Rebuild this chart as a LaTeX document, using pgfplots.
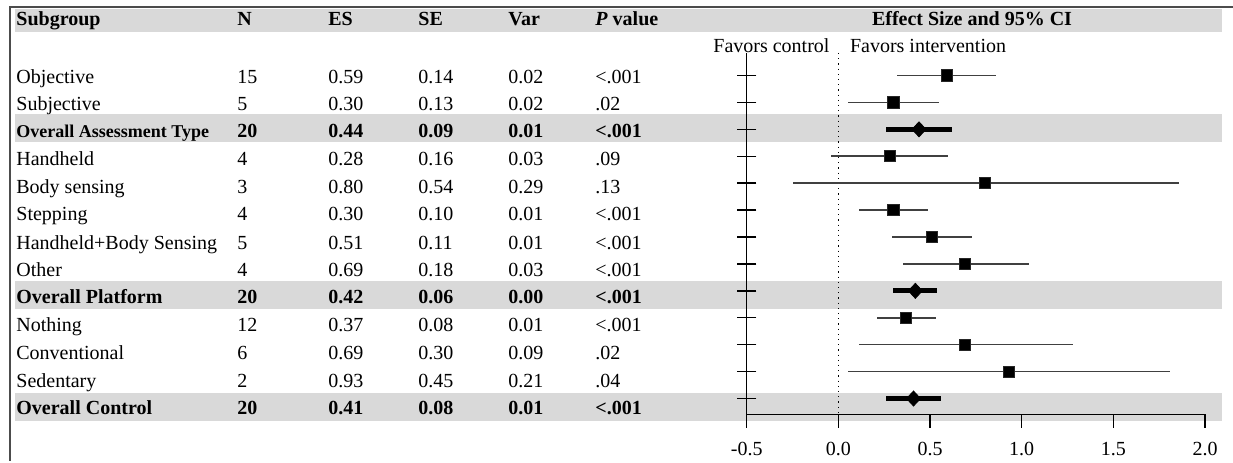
\documentclass[border=0pt]{standalone}
\usepackage{fontspec}
\setmainfont{Liberation Serif}
\usepackage{pgfplots}
\pgfplotsset{compat=1.18}
\usepackage{pgfplotstable}
\definecolor{band}{RGB}{217,217,217}

\pgfplotstableread{
row es lo hi
-1 0.59 0.32 0.86
-2 0.30 0.05 0.55
-4 0.28 -0.04 0.60
-5 0.80 -0.25 1.86
-6 0.30 0.11 0.49
-7 0.51 0.29 0.73
-8 0.69 0.35 1.04
-10 0.37 0.21 0.53
-11 0.69 0.11 1.28
-12 0.93 0.05 1.81
}\studies
\pgfplotstableread{
row es lo hi
-3 0.44 0.26 0.62
-9 0.42 0.30 0.54
-13 0.41 0.26 0.56
}\overall
\pgfplotstableread{
x row
-0.5 -1
-0.5 -2
-0.5 -3
-0.5 -4
-0.5 -5
-0.5 -6
-0.5 -7
-0.5 -8
-0.5 -9
-0.5 -10
-0.5 -11
-0.5 -12
-0.5 -13
}\rowticks
\pgfplotstableread{
x y
-0.5 -13.853
0.0 -13.853
0.5 -13.853
1.0 -13.853
1.5 -13.853
2.0 -13.853
}\xticks

\newcommand{\trow}[8]{%
  \node[anchor=base west,inner sep=0pt,font=#2] at (16,#1) {#3};
  \node[anchor=base west,inner sep=0pt,font=#2] at (237,#1) {#4};
  \node[anchor=base west,inner sep=0pt,font=#2] at (328,#1) {#5};
  \node[anchor=base west,inner sep=0pt,font=#2] at (418,#1) {#6};
  \node[anchor=base west,inner sep=0pt,font=#2] at (508,#1) {#7};
  \node[anchor=base west,inner sep=0pt,font=#2] at (595,#1) {#8};
}

\begin{document}
\begin{tikzpicture}[font=\fontsize{10pt}{12pt}\selectfont]
\begin{scope}[x=0.5pt,y=-0.5pt]
\useasboundingbox (0,0) rectangle (1233,461);
% bands
\fill[band] (15,9.3) rectangle (1221.7,31.7);
\fill[band] (15,114.5) rectangle (1221.7,142.5);
\fill[band] (15,281.5) rectangle (1221.7,309.5);
\fill[band] (15,393) rectangle (1221.7,421);
% frame
\draw[line width=1pt, black!70] (10,461) -- (10,7) -- (1233,7);
% header
\node[anchor=base west,inner sep=0pt,font=\bfseries] at (16,26) {Subgroup};
\node[anchor=base west,inner sep=0pt,font=\bfseries] at (237,26) {N};
\node[anchor=base west,inner sep=0pt,font=\bfseries] at (328,26) {ES};
\node[anchor=base west,inner sep=0pt,font=\bfseries] at (418,26) {SE};
\node[anchor=base west,inner sep=0pt,font=\bfseries] at (508,26) {Var};
\node[anchor=base west,inner sep=0pt,font=\bfseries] at (595,26) {\textit{P} value};
\node[anchor=base,inner sep=0pt,font=\bfseries] at (972,26) {Effect Size and 95\% CI};
\node[anchor=base west,inner sep=0pt] at (713,53) {Favors control};
\node[anchor=base west,inner sep=0pt] at (849.6,53) {Favors intervention};
% table rows
\trow{83.3}{}{Objective}{15}{0.59}{0.14}{0.02}{<.001}
\trow{110.4}{}{Subjective}{5}{0.30}{0.13}{0.02}{.02}
\trow{137.5}{\bfseries}{\fontsize{9pt}{11pt}\selectfont Overall Assessment Type}{20}{0.44}{0.09}{0.01}{<.001}
\trow{166}{}{Handheld}{4}{0.28}{0.16}{0.03}{.09}
\trow{193.4}{}{Body sensing}{3}{0.80}{0.54}{0.29}{.13}
\trow{221}{}{Stepping}{4}{0.30}{0.10}{0.01}{<.001}
\trow{249.2}{}{Handheld+Body Sensing}{5}{0.51}{0.11}{0.01}{<.001}
\trow{276.7}{}{Other}{4}{0.69}{0.18}{0.03}{<.001}
\trow{303.5}{\bfseries}{Overall Platform}{20}{0.42}{0.06}{0.00}{<.001}
\trow{331.7}{}{Nothing}{12}{0.37}{0.08}{0.01}{<.001}
\trow{360}{}{Conventional}{6}{0.69}{0.30}{0.09}{.02}
\trow{387.3}{}{Sedentary}{2}{0.93}{0.45}{0.21}{.04}
\trow{415}{\bfseries}{Overall Control}{20}{0.41}{0.08}{0.01}{<.001}
\end{scope}

\begin{axis}[
  at={(373.35pt,-207.25pt)}, anchor=south west,
  scale only axis, width=229.15pt, height=180.75pt,
  xmin=-0.5, xmax=2.0, ymin=-13.593, ymax=-0.164,
  axis x line=bottom, axis y line=left,
  axis line style={-, line width=0.7pt, black},
  xtick={-0.5,0,0.5,1,1.5,2},
  xticklabels={-0.5,0.0,0.5,1.0,1.5,2.0},
  ytick=\empty,
  tick align=outside,
  major tick length=7pt,
  xtick style={draw=none},
  xticklabel style={font=\fontsize{10pt}{12pt}\selectfont, yshift=-3.5pt},
  clip=false,
]
\addplot[dotted, black, line width=0.6pt] coordinates {(0,-0.164) (0,-13.593)};
\addplot[only marks, mark=-, mark size=4.8pt, mark options={line width=0.7pt, black}]
  table[x=x, y=row] {\rowticks};
\addplot[only marks, mark=|, mark size=3.5pt, mark options={line width=0.7pt, black}]
  table[x=x, y=y] {\xticks};
\addplot[only marks, mark=square*, mark size=2.8pt,
  mark options={fill=black, draw=black!85},
  error bars/.cd, x dir=both, x explicit, error mark=none,
  error bar style={line width=0.8pt, black!75}]
  table[x=es, y=row,
    x error plus expr=\thisrow{hi}-\thisrow{es},
    x error minus expr=\thisrow{es}-\thisrow{lo}] {\studies};
\addplot[only marks, mark=diamond*, mark size=3.75pt,
  mark options={fill=black, draw=black, xscale=1.24},
  error bars/.cd, x dir=both, x explicit, error mark=none,
  error bar style={line width=2.4pt, black}]
  table[x=es, y=row,
    x error plus expr=\thisrow{hi}-\thisrow{es},
    x error minus expr=\thisrow{es}-\thisrow{lo}] {\overall};
\end{axis}
\end{tikzpicture}
\end{document}
